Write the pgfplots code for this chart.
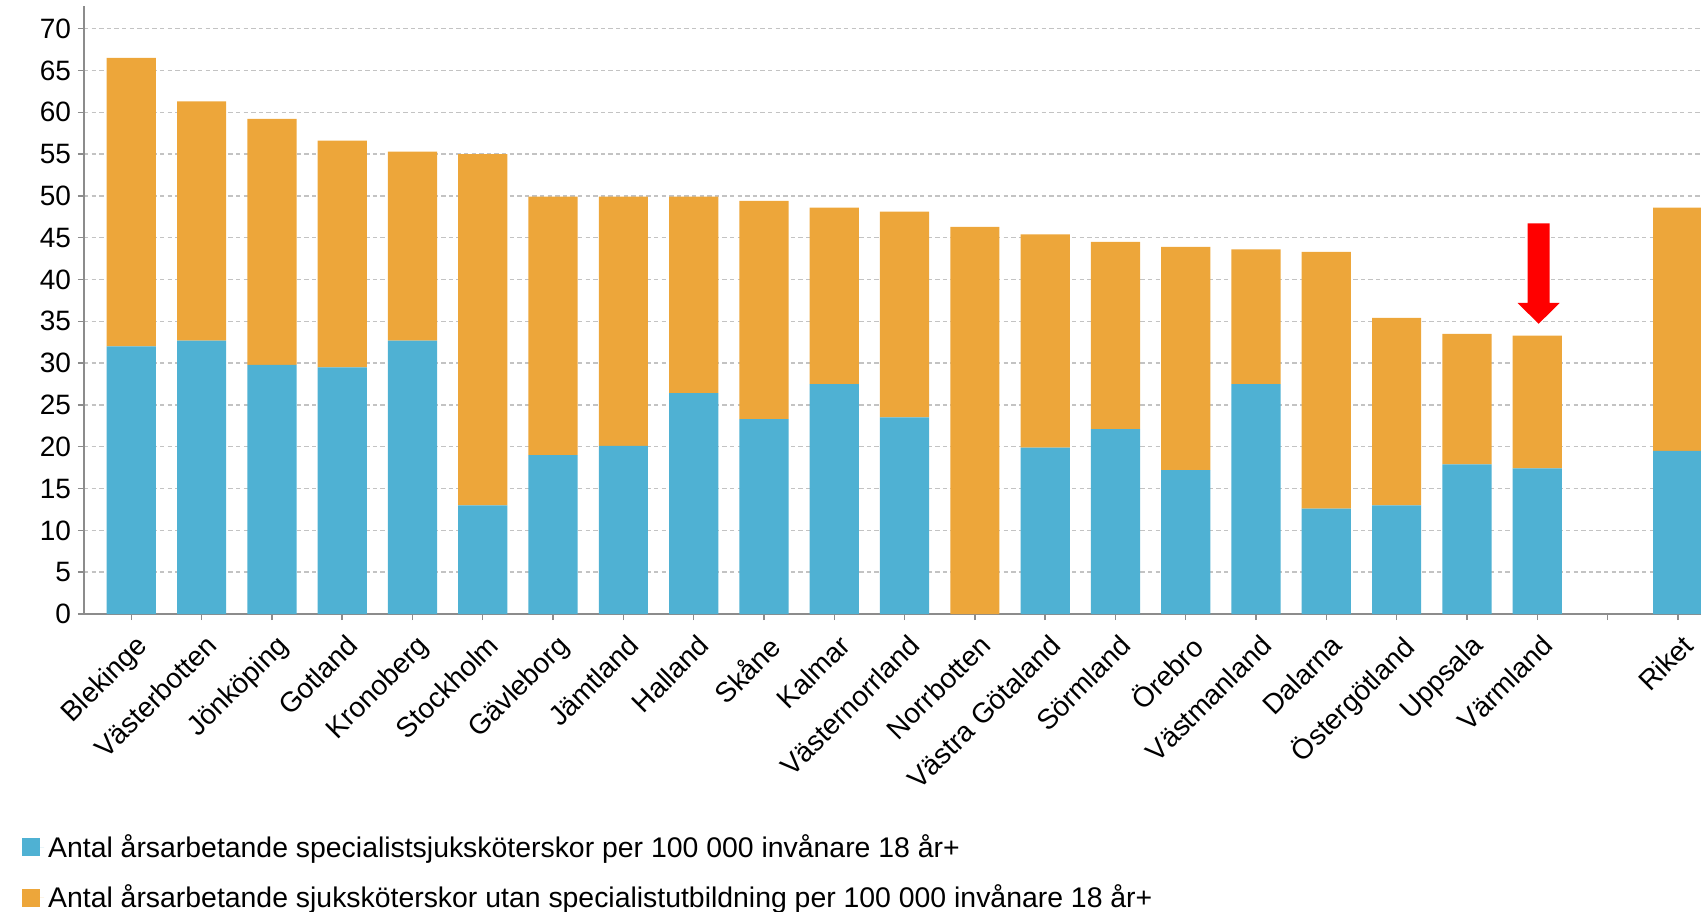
\documentclass[border=0pt]{standalone}
\usepackage{fontspec}
\setmainfont{Liberation Sans}
\usepackage{pgfplots}
\pgfplotsset{compat=1.18}
\usepackage{pgfplotstable}
\definecolor{cblue}{RGB}{79,177,211}
\definecolor{corange}{RGB}{237,166,58}
\definecolor{axgray}{RGB}{140,140,140}
\definecolor{gridgray}{RGB}{195,195,195}

% x: position, spec: specialistsjuksköterskor, utan: utan specialistutbildning
\pgfplotstableread{
x spec utan
0  32.0 34.5
1  32.7 28.6
2  29.8 29.4
3  29.5 27.1
4  32.7 22.6
5  13.0 42.0
6  19.0 30.9
7  20.1 29.8
8  26.4 23.5
9  23.3 26.1
10 27.5 21.1
11 23.5 24.6
12 0.0  46.3
13 19.9 25.5
14 22.1 22.4
15 17.2 26.7
16 27.5 16.1
17 12.6 30.7
18 13.0 22.4
19 17.9 15.6
20 17.4 15.9
22 19.5 29.1
}\data

\begin{document}
\begin{tikzpicture}
\path[use as bounding box] (0,0) rectangle (850.5pt,455.5pt);
\begin{axis}[
  at={(42pt,148.5pt)}, anchor=south west,
  scale only axis, width=808.5pt, height=304pt,
  xmin=-0.673, xmax=22.33, ymin=0, ymax=72.7,
  ybar stacked, bar width=0.7,
  axis x line*=bottom, axis y line*=left,
  x axis line style={draw=axgray, line width=1pt},
  y axis line style={draw=axgray, line width=0.8pt},
  xtick={0,...,22},
  xticklabels={Blekinge,Västerbotten,Jönköping,Gotland,Kronoberg,Stockholm,Gävleborg,Jämtland,Halland,Skåne,Kalmar,Västernorrland,Norrbotten,Västra Götaland,Sörmland,Örebro,Västmanland,Dalarna,Östergötland,Uppsala,Värmland,{},Riket},
  ytick={0,5,...,70},
  ymajorgrids,
  grid style={gridgray, line width=0.7pt, dash pattern=on 2.2pt off 1.6pt},
  tick align=outside, major tick length=3pt,
  tick style={axgray, line width=0.7pt},
  /pgf/number format/assume math mode=true,
  yticklabel style={font=\fontsize{14}{16}\selectfont},
  xticklabel style={xshift=1.5pt, yshift=-3.5pt, rotate=45, anchor=north east, font=\fontsize{14}{16}\selectfont, inner sep=2pt},
  legend style={at={(-0.0385,-0.355)}, anchor=north west, draw=none, fill=none,
    inner sep=0pt, row sep=8.3pt, font=\fontsize{14.2}{16}\selectfont,
    cells={anchor=west}},
  legend image code/.code={\fill[#1] (0pt,-4.5pt) rectangle (9pt,4.5pt); \path (0pt,0pt) -- (11pt,0pt);},
]
\addplot[fill=cblue, draw=none] table[x=x, y=spec] {\data};
\addplot[fill=corange, draw=none] table[x=x, y=utan] {\data};
\legend{Antal årsarbetande specialistsjuksköterskor per 100 000 invånare 18 år+,
        Antal årsarbetande sjuksköterskor utan specialistutbildning per 100 000 invånare 18 år+}
\fill[red] (axis cs:19.865,46.7) -- (axis cs:20.175,46.7) -- (axis cs:20.175,37.2)
  -- (axis cs:20.32,37.2) -- (axis cs:20.02,34.7) -- (axis cs:19.72,37.2)
  -- (axis cs:19.865,37.2) -- cycle;
\end{axis}
\end{tikzpicture}
\end{document}
